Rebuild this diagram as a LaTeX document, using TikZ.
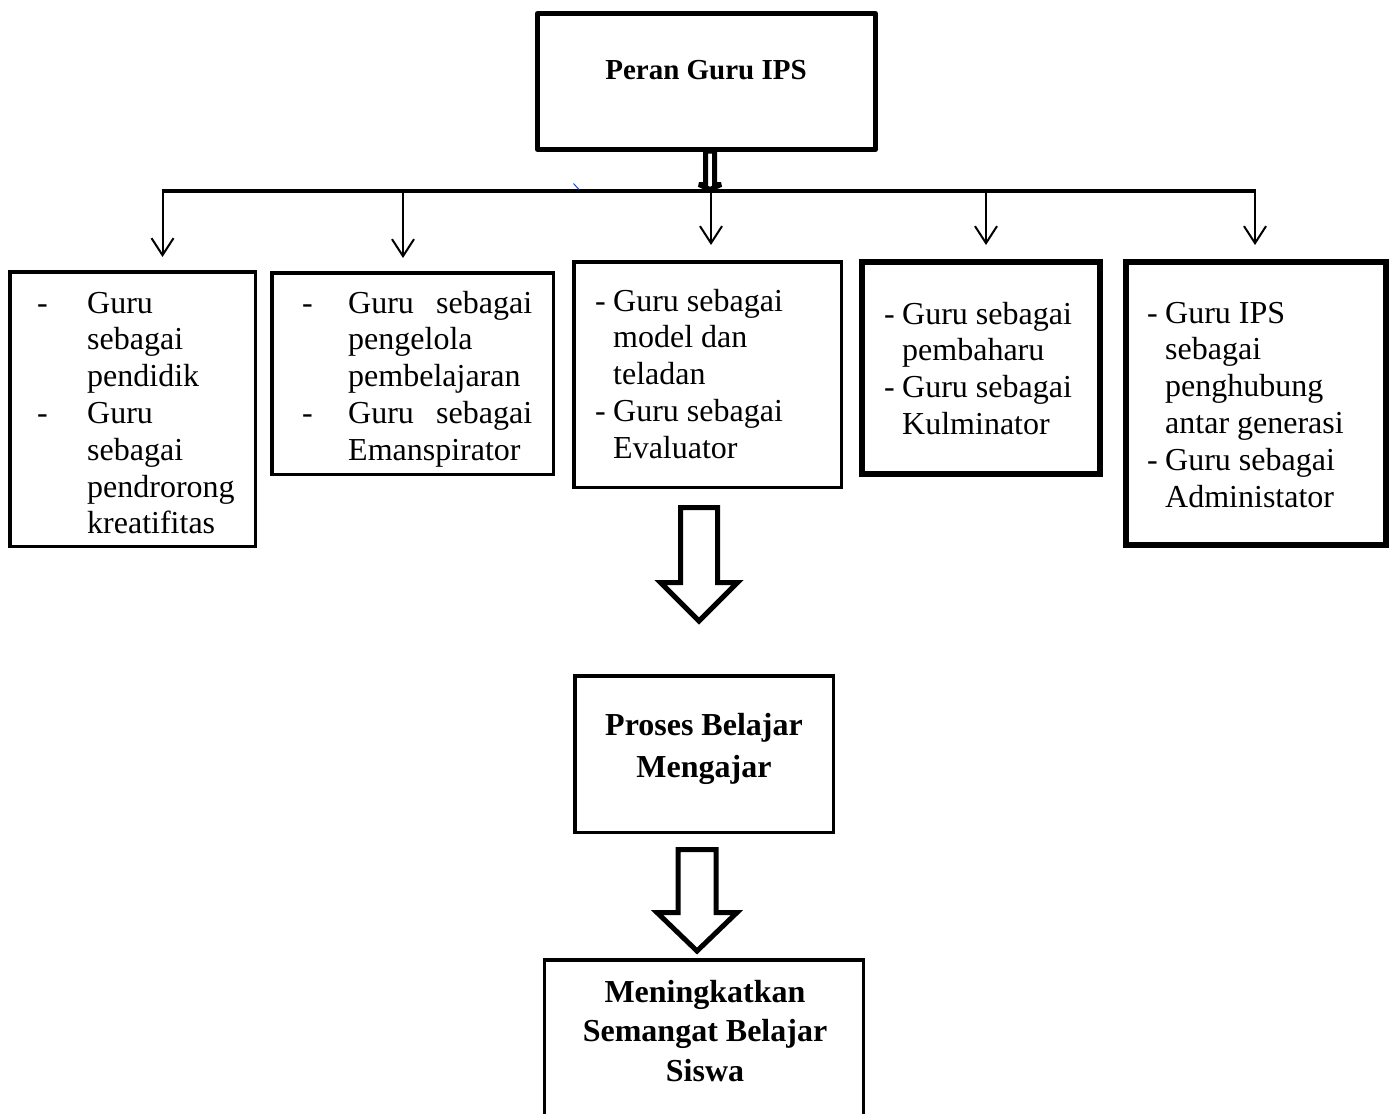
\documentclass[tikz,border=0pt]{standalone}
\usepackage{fontspec}
\setmainfont{Liberation Serif}
\usetikzlibrary{arrows.meta}
\newcommand\bodytext{\fontsize{32}{36.8}\selectfont}
\begin{document}
\begin{tikzpicture}[x=1pt,y=-1pt,
  box/.style={draw, rectangle, inner sep=0pt, line width=#1},
  box/.default=3.5pt,
  itemtext/.style={inner sep=0pt, anchor=base west, font=\bodytext},
  boldtext/.style={inner sep=0pt, anchor=base, font=\bfseries},
  bus/.style={line width=3.2pt},
  arr/.style={line width=2pt, -{Straight Barb[length=17pt,width=22pt,line width=2pt]}},
  blockarrow/.style={draw, fill=white, line width=#1, miter limit=20},
  blockarrow/.default=5pt]
\useasboundingbox (0,0) rectangle (1396,1113);
\fill[white] (0,0) rectangle (1396,1113);

% top box
\node[box=5pt, line join=round, minimum width=338pt, minimum height=136pt] (top) at (706.5,81.5) {};
\node[boldtext, font=\fontsize{29}{34}\selectfont\bfseries] (toptxt) at (706,80) {Peran Guru IPS};

% boxes of roles
\node[box, minimum width=245.5pt, minimum height=274.5pt] (b1) at (132.5,409) {};
\node[box, minimum width=281.5pt, minimum height=201.5pt] (b2) at (412.5,373.5) {};
\node[box, minimum width=267.5pt, minimum height=225.5pt] (b3) at (707.5,374.5) {};
\node[box=6pt, minimum width=238pt, minimum height=212pt] (b4) at (981,368) {};
\node[box=6pt, minimum width=260pt, minimum height=283pt] (b5) at (1256,403.5) {};

\node[itemtext] (t1) at (37,313) {\begin{tabular}[t]{@{}p{50pt}@{}l@{}}
- & Guru\\ & sebagai\\ & pendidik\\ - & Guru\\ & sebagai\\ & pendrorong\\ & kreatifitas
\end{tabular}};
\node[itemtext] (t2) at (302,313) {\begin{tabular}[t]{@{}p{46pt}@{}l@{}}
- & \makebox[184pt][s]{Guru sebagai}\\ & pengelola\\ & pembelajaran\\ - & \makebox[184pt][s]{Guru sebagai}\\ & Emanspirator
\end{tabular}};
\node[itemtext] (t3) at (595,311) {\begin{tabular}[t]{@{}p{18pt}@{}l@{}}
- & Guru sebagai\\ & model dan\\ & teladan\\ - & Guru sebagai\\ & Evaluator
\end{tabular}};
\node[itemtext] (t4) at (884,324) {\begin{tabular}[t]{@{}p{18pt}@{}l@{}}
- & Guru sebagai\\ & pembaharu\\ - & Guru sebagai\\ & Kulminator
\end{tabular}};
\node[itemtext] (t5) at (1147,323) {\begin{tabular}[t]{@{}p{18pt}@{}l@{}}
- & Guru IPS\\ & sebagai\\ & penghubung\\ & antar generasi\\ - & Guru sebagai\\ & Administator
\end{tabular}};

% middle box
\node[box, minimum width=258.5pt, minimum height=156.5pt] (pbm) at (704,754) {};
\node[boldtext] (pbmtxt) at (704,735) {\fontsize{32}{42}\selectfont\bfseries\begin{tabular}[t]{@{}c@{}}
Proses Belajar\\ Mengajar
\end{tabular}};

% bottom box (cut by the page edge)
\node[inner sep=0pt, minimum width=318.5pt, minimum height=160pt] (bot) at (704,1040) {};
\draw[line width=3.5pt] (bot.south west) -- (bot.north west) -- (bot.north east) -- (bot.south east);
\node[boldtext] (bottxt) at (705,1002) {\fontsize{32}{39.5}\selectfont\bfseries\begin{tabular}[t]{@{}c@{}}
Meningkatkan\\ Semangat Belajar\\ Siswa
\end{tabular}};

% bus line and branch arrows
\coordinate (a1) at (162.5,191);  \coordinate (e1) at (162.5,257);
\coordinate (a2) at (403,191);  \coordinate (e2) at (403,258);
\coordinate (a3) at (711,191);  \coordinate (e3) at (711,245);
\coordinate (a4) at (986,191);  \coordinate (e4) at (986,245);
\coordinate (a5) at (1255,191); \coordinate (e5) at (1255,245);
\draw[bus] ([xshift=-1pt]a1) -- ([xshift=1pt]a5);
\foreach \i in {1,...,5} { \draw[arr] (a\i) -- (e\i); }

% small hollow arrow from top box to bus
\draw[blockarrow=5pt, miter limit=4]
  (705.5,151) -- (714.5,151) -- (714.5,184.5) -- (721,184.5) -- (710,189.5)
  -- (699,184.5) -- (705.5,184.5) -- cycle;

% big hollow arrows
\draw[blockarrow] (680.5,507.5) -- (717.5,507.5) -- (717.5,582.5) -- (737.5,582.5)
  -- (699,621) -- (660.5,582.5) -- (680.5,582.5) -- cycle;
\draw[blockarrow] (678,849.5) -- (716,849.5) -- (716,912.5) -- (737,912.5)
  -- (697,951) -- (657,912.5) -- (678,912.5) -- cycle;

% small blue mark
\draw[blue!70!cyan, line width=1pt] (573.5,183.5) -- (579,189.5);
\end{tikzpicture}
\end{document}
